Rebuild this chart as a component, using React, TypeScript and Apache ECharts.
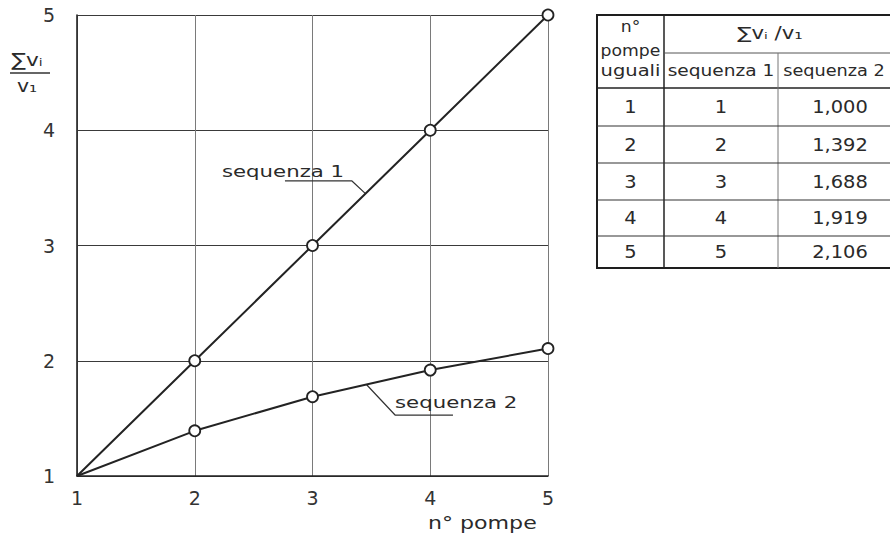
import React, { useEffect, useRef } from 'react';
import * as echarts from 'echarts';

// ---- data ----
const xValues = [1, 2, 3, 4, 5];
const seq1 = [1, 2, 3, 4, 5];
const seq2 = [1.0, 1.392, 1.688, 1.919, 2.106];
const seriesNames = ['sequenza 1', 'sequenza 2'];
const axisMin = 1;
const axisMax = 5;
const axisStep = 1;
const xAxisTitle = 'n° pompe';
const yAxisTitleTop = '∑vᵢ';
const yAxisTitleBottom = 'v₁';
const tableHeadLeft = ['n°', 'pompe', 'uguali'];
const tableHeadRatio = '∑vᵢ /v₁';
const pumpCounts = [1, 2, 3, 4, 5];
// leader lines for the series labels (data coordinates)
const leader1 = [[2.766, 3.56], [3.335, 3.56], [3.45, 3.45]];
const leader2 = [[3.46, 1.792], [3.701, 1.529], [4.193, 1.529]];
const label1Anchor = [2.231, 3.638];
const label2Anchor = [3.701, 1.642];

const FONT = 'DejaVu Sans';
const INK = '#232323';

export default function App() {
  const ref = useRef<HTMLDivElement>(null);

  useEffect(() => {
    if (!ref.current) return;
    const chart = echarts.init(ref.current, undefined, { renderer: 'svg' });

    const markerData = (vals: number[]) =>
      vals.map((v, i) => ({
        value: [xValues[i], v],
        symbol: i === 0 ? 'none' : 'circle',
      }));

    chart.setOption({
      animation: false,
      backgroundColor: '#ffffff',
      grid: { left: 77, right: 342, top: 15, bottom: 59, containLabel: false, outerBoundsMode: 'none' },
      xAxis: {
        type: 'value',
        min: axisMin,
        max: axisMax,
        interval: axisStep,
        axisLine: { show: true, lineStyle: { color: INK, width: 1.6 } },
        axisTick: { show: false },
        axisLabel: { color: '#333', fontFamily: FONT, fontSize: 19, margin: 12 },
        splitLine: { show: true, lineStyle: { color: '#7a7a7a', width: 1 } },
      },
      yAxis: {
        type: 'value',
        min: axisMin,
        max: axisMax,
        interval: axisStep,
        axisLine: { show: true, lineStyle: { color: INK, width: 1.6 } },
        axisTick: { show: false },
        axisLabel: { color: '#333', fontFamily: FONT, fontSize: 19, margin: 22 },
        splitLine: { show: true, lineStyle: { color: '#3a3a3a', width: 1 } },
      },
      series: [
        {
          name: seriesNames[0],
          type: 'line',
          data: markerData(seq1),
          symbolSize: 11,
          lineStyle: { color: INK, width: 2 },
          itemStyle: { color: '#ffffff', borderColor: INK, borderWidth: 1.8 },
          silent: true,
          z: 3,
        },
        {
          name: seriesNames[1],
          type: 'line',
          data: markerData(seq2),
          symbolSize: 11,
          lineStyle: { color: INK, width: 2 },
          itemStyle: { color: '#ffffff', borderColor: INK, borderWidth: 1.8 },
          silent: true,
          z: 3,
        },
        {
          type: 'line',
          data: leader1,
          symbol: 'none',
          lineStyle: { color: '#333', width: 1.2 },
          silent: true,
          z: 2,
        },
        {
          type: 'line',
          data: leader2,
          symbol: 'none',
          lineStyle: { color: '#333', width: 1.2 },
          silent: true,
          z: 2,
        },
      ],
    });

    const p1 = chart.convertToPixel({ gridIndex: 0 }, label1Anchor) as number[];
    const p2 = chart.convertToPixel({ gridIndex: 0 }, label2Anchor) as number[];

    const txt = (
      text: string,
      x: number,
      y: number,
      size: number,
      align: string,
      sx = 1.28
    ) => ({
      type: 'text',
      x,
      y,
      scaleX: sx,
      silent: true,
      style: {
        text,
        font: `${size}px "${FONT}"`,
        fill: '#2a2a2a',
        align,
        verticalAlign: 'middle',
      },
    });
    const ln = (x1: number, y1: number, x2: number, y2: number, w: number, c = '#222') => ({
      type: 'line',
      silent: true,
      shape: { x1, y1, x2, y2 },
      style: { stroke: c, lineWidth: w },
    });

    // table layout
    const tL = 597, tR = 906, tT = 15, tB = 268;
    const c1 = 664, c2 = 778, hMid = 53, hB = 88;
    const rowY = [88, 126, 163, 200, 236, 268];
    const colCx = [630.5, 721, 840];

    const table: any[] = [
      { type: 'rect', silent: true, shape: { x: tL, y: tT, width: tR - tL, height: tB - tT }, style: { fill: 'none', stroke: '#1e1e1e', lineWidth: 2 } },
      ln(c1, tT, c1, tB, 1.5),
      ln(c1, hMid, tR, hMid, 1, '#555'),
      ln(tL, hB, tR, hB, 1.5),
      ln(c2, hMid, c2, tB, 1, '#777'),
    ];
    for (let i = 1; i < rowY.length - 1; i++) table.push(ln(tL, rowY[i], tR, rowY[i], 1.2, '#333'));
    table.push(txt(tableHeadLeft[0], colCx[0], 27, 15, 'center', 1.15));
    table.push(txt(tableHeadLeft[1], colCx[0], 51, 15, 'center', 1.15));
    table.push(txt(tableHeadLeft[2], colCx[0], 71, 15, 'center', 1.3));
    table.push(txt(tableHeadRatio, 770, 33, 17, 'center', 1.25));
    table.push(txt(seriesNames[0], 721, 71, 15, 'center', 1.24));
    table.push(txt(seriesNames[1], 834, 71, 15, 'center', 1.18));
    pumpCounts.forEach((n, i) => {
      const cy = (rowY[i] + rowY[i + 1]) / 2;
      table.push(txt(String(n), colCx[0], cy, 18, 'center', 1.08));
      table.push(txt(String(seq1[i]), colCx[1], cy, 18, 'center', 1.08));
      table.push(txt(seq2[i].toFixed(3).replace('.', ','), colCx[2], cy, 18, 'center', 1.08));
    });

    chart.setOption({
      graphic: [
        txt(seriesNames[0], p1[0], p1[1], 16, 'left', 1.33),
        txt(seriesNames[1], p2[0], p2[1], 16, 'left', 1.33),
        txt(xAxisTitle, 428, 523, 17, 'left', 1.3),
        txt(yAxisTitleTop, 27, 60, 18, 'center', 1.2),
        ln(10, 73, 50, 73, 1.3, '#333'),
        txt(yAxisTitleBottom, 27, 86, 17, 'center', 1.2),
        ...table,
      ],
    });

    return () => chart.dispose();
  }, []);

  return (
    <div
      ref={ref}
      style={{ position: 'fixed', left: 0, top: 0, width: 890, height: 535, background: '#fff' }}
    />
  );
}
